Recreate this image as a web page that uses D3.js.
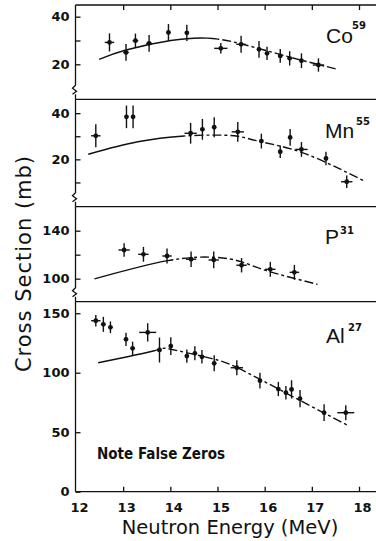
<!DOCTYPE html>
<html><head><meta charset="utf-8">
<script src="https://cdn.jsdelivr.net/npm/d3@7"></script>
<style>html,body{margin:0;padding:0;background:#fff;}svg{display:block;}</style>
</head><body>
<script>
// ---------- DATA ----------
const energyTicks = [12, 13, 14, 15, 16, 17, 18];
const nuclides = ["Co", "Mn", "P", "Al"];
const massNumbers = ["59", "55", "31", "27"];

const coE    = [12.71, 13.06, 13.26, 13.55, 13.96, 14.35, 15.07, 15.50, 15.88, 16.05, 16.33, 16.53, 16.78, 17.14];
const coV    = [29.2, 25.0, 29.9, 28.8, 33.4, 33.2, 26.7, 28.4, 26.3, 24.6, 23.5, 22.5, 21.5, 19.7];
const coXErr = [0.10, 0.06, 0.06, 0.06, 0.04, 0.04, 0.14, 0.10, 0.04, 0.04, 0.04, 0.04, 0.04, 0.12];
const coYErr = [3.8, 3.5, 3.0, 3.5, 3.5, 3.4, 2.2, 3.6, 3.5, 2.8, 2.9, 3.0, 3.1, 2.8];
const coCurveE = [12.49, 13.06, 14.01, 14.79, 15.50, 16.48, 17.12, 17.54];
const coCurveV = [22.1, 26.0, 30.0, 31.0, 28.6, 23.3, 20.0, 17.9];

const mnE    = [12.42, 13.07, 13.21, 14.43, 14.68, 14.93, 15.43, 15.93, 16.33, 16.54, 16.78, 17.30, 17.74];
const mnV    = [30.2, 38.4, 38.4, 31.3, 33.0, 33.9, 31.9, 27.9, 23.3, 29.5, 24.3, 20.4, 10.3];
const mnXErr = [0.10, 0, 0, 0.13, 0.04, 0.04, 0.13, 0.04, 0.04, 0.04, 0.13, 0.04, 0.12];
const mnYErr = [5.0, 4.9, 4.9, 4.5, 4.5, 4.3, 4.3, 3.2, 2.7, 3.6, 3.2, 2.9, 2.7];
const mnCurveE = [12.26, 13.31, 14.30, 14.93, 15.43, 15.92, 16.84, 18.11];
const mnCurveV = [22.2, 27.6, 30.1, 30.5, 30.0, 27.6, 22.6, 10.6];

const pE    = [13.02, 13.43, 13.93, 14.44, 14.92, 15.51, 16.12, 16.63];
const pV    = [123.9, 120.3, 118.9, 116.2, 115.6, 111.2, 107.8, 105.3];
const pXErr = [0.12, 0.11, 0.10, 0.11, 0.11, 0.11, 0.11, 0.10];
const pYErr = [5.6, 6.2, 6.2, 6.5, 7.0, 6.0, 6.2, 6.2];
const pCurveE = [12.39, 13.94, 14.93, 15.50, 16.06, 17.12];
const pCurveV = [99.8, 115.0, 117.8, 114.2, 106.4, 95.3];

const alE    = [12.42, 12.58, 12.73, 13.06, 13.20, 13.52, 13.77, 14.01, 14.35, 14.52, 14.67, 14.93, 15.41, 15.90, 16.29, 16.45, 16.57, 16.75, 17.26, 17.72];
const alV    = [143.7, 140.7, 138.2, 128.1, 120.5, 133.9, 119.1, 122.4, 114.0, 116.3, 113.4, 107.9, 104.2, 93.3, 86.3, 83.2, 86.0, 78.2, 66.4, 66.4];
const alXErr = [0.10, 0.04, 0.04, 0.04, 0.04, 0.18, 0.04, 0.04, 0.04, 0.04, 0.04, 0.04, 0.13, 0.04, 0.04, 0.04, 0.04, 0.04, 0.04, 0.18];
const alYErr = [4.9, 6.3, 4.9, 5.6, 5.6, 7.7, 10.5, 7.4, 5.6, 5.9, 5.6, 6.7, 6.3, 6.6, 6.0, 5.6, 7.7, 7.3, 7.0, 6.3];
const alCurveE = [12.47, 13.66, 14.01, 14.86, 15.42, 16.13, 16.84, 17.79];
const alCurveV = [108.4, 118.5, 119.7, 112.1, 104.2, 89.7, 74.8, 55.2];

const coTicks = [20, 30, 40], coLabels = [20, 40];
const mnTicks = [10, 20, 30, 40], mnLabels = [20, 40];
const pTicks = [100, 120, 140], pLabels = [100, 140];
const alTicks = [0, 50, 100, 150], alLabels = [0, 50, 100, 150];

const xTitle = "Neutron Energy (MeV)";
const yTitle = "Cross Section (mb)";
const noteText = "Note False Zeros";

// ---------- LAYOUT ----------
const W = 376, H = 541;
const axisX = 75.5, rightX = 376;
const x = d3.scaleLinear().domain([12, 18]).range([76, 359]);

const panels = [
  { E: coE, V: coV, xe: coXErr, ye: coYErr, cE: coCurveE, cV: coCurveV, ticks: coTicks, labels: coLabels,
    domain: [5.3, 44.9], top: 5, bottom: 99.3, split: 15.0, brk: true, lab: [326, 43], sup: [352, 29] },
  { E: mnE, V: mnV, xe: mnXErr, ye: mnYErr, cE: mnCurveE, cV: mnCurveV, ticks: mnTicks, labels: mnLabels,
    domain: [-0.5, 46.0], top: 99.3, bottom: 206.7, split: 14.3, brk: true, lab: [325, 137.5], sup: [356, 124.5] },
  { E: pE, V: pV, xe: pXErr, ye: pYErr, cE: pCurveE, cV: pCurveV, ticks: pTicks, labels: pLabels,
    domain: [80.8, 160], top: 206.7, bottom: 301.7, split: 13.95, brk: true, lab: [325, 243.5], sup: [340, 234] },
  { E: alE, V: alV, xe: alXErr, ye: alYErr, cE: alCurveE, cV: alCurveV, ticks: alTicks, labels: alLabels,
    domain: [0, 159.7], top: 301.7, bottom: 491.7, split: 13.7, brk: false, lab: [326, 343.3], sup: [348, 330.5] }
];

const svg = d3.select("body").append("svg").attr("width", W).attr("height", H)
  .style("font-family", "'DejaVu Sans', sans-serif");
const ink = "#111";

// horizontal frame lines
[5, 99.3, 206.7, 301.7, 491.7].forEach(yy => {
  svg.append("line").attr("x1", axisX).attr("x2", rightX).attr("y1", yy).attr("y2", yy)
    .attr("stroke", ink).attr("stroke-width", 1.3);
});

// top ticks (down) and bottom axis (up, with labels)
const topAxis = d3.axisTop(x).tickValues(energyTicks.slice(1)).tickSizeInner(-5).tickSizeOuter(0).tickFormat("");
svg.append("g").attr("transform", "translate(0,5)").call(topAxis)
  .call(g => g.select(".domain").remove())
  .call(g => g.selectAll("line").attr("stroke", ink).attr("stroke-width", 1.3));

const bottomAxis = d3.axisBottom(x).tickValues(energyTicks).tickSizeInner(-5).tickSizeOuter(0)
  .tickPadding(11).tickFormat(d3.format("d"));
svg.append("g").attr("transform", "translate(0,491.7)").call(bottomAxis)
  .call(g => g.select(".domain").remove())
  .call(g => g.selectAll("line").attr("stroke", ink).attr("stroke-width", 1.3))
  .call(g => g.selectAll(".tick").filter(d => d === 12).select("line").remove())
  .call(g => g.selectAll("text").attr("fill", ink).attr("font-size", 13).attr("font-weight", "bold")
    .attr("font-family", "'DejaVu Sans', sans-serif").attr("dx", 3));

const defs = svg.append("defs");
const line = d3.line().curve(d3.curveNatural);

panels.forEach((p, i) => {
  const y = d3.scaleLinear().domain(p.domain).range([p.bottom, p.top]);

  // left axis with break mark
  const bTop = p.top, bBot = p.bottom;
  let path = `M${axisX},${bTop} `;
  if (p.brk) {
    const by = bBot - 10;
    path += `L${axisX},${by - 4} L${axisX - 3},${by - 1} L${axisX + 1},${by + 2} L${axisX - 3},${by + 5} M${axisX},${by + 5} L${axisX},${bBot}`;
  } else {
    path += `L${axisX},${bBot}`;
  }
  svg.append("path").attr("d", path).attr("fill", "none").attr("stroke", ink).attr("stroke-width", 1.3);

  const yAxis = d3.axisLeft(y).tickValues(p.ticks).tickSizeInner(-5).tickSizeOuter(0).tickPadding(6)
    .tickFormat(d => p.labels.includes(d) ? d : "");
  svg.append("g").attr("transform", `translate(${axisX},0)`).call(yAxis)
    .call(g => g.select(".domain").remove())
    .call(g => g.selectAll("line").attr("stroke", ink).attr("stroke-width", 1.3))
    .call(g => g.selectAll("text").attr("fill", ink).attr("font-size", 13).attr("font-weight", "bold")
      .attr("font-family", "'DejaVu Sans', sans-serif"));

  // curve: solid part and dashed part via clip paths
  const pts = p.cE.map((e, k) => [x(e), y(p.cV[k])]);
  const sx = x(p.split);
  defs.append("clipPath").attr("id", `cs${i}`).append("rect")
    .attr("x", 0).attr("y", p.top).attr("width", sx).attr("height", p.bottom - p.top);
  defs.append("clipPath").attr("id", `cd${i}`).append("rect")
    .attr("x", sx).attr("y", p.top).attr("width", W - sx).attr("height", p.bottom - p.top);
  svg.append("path").attr("d", line(pts)).attr("fill", "none").attr("stroke", ink)
    .attr("stroke-width", 1.4).attr("clip-path", `url(#cs${i})`);
  svg.append("path").attr("d", line(pts)).attr("fill", "none").attr("stroke", ink)
    .attr("stroke-width", 1.4).attr("stroke-dasharray", "9,3,3,3").attr("clip-path", `url(#cd${i})`);

  // data points with error bars
  const g = svg.append("g");
  p.E.forEach((e, k) => {
    const cx = x(e), cy = y(p.V[k]);
    g.append("line").attr("x1", cx).attr("x2", cx)
      .attr("y1", y(p.V[k] - p.ye[k])).attr("y2", y(p.V[k] + p.ye[k]))
      .attr("stroke", ink).attr("stroke-width", 1.4);
    if (p.xe[k] > 0) {
      g.append("line").attr("x1", x(e - p.xe[k])).attr("x2", x(e + p.xe[k]))
        .attr("y1", cy).attr("y2", cy).attr("stroke", ink).attr("stroke-width", 1.4);
    }
    g.append("circle").attr("cx", cx).attr("cy", cy).attr("r", 2.4).attr("fill", ink);
  });

  // nuclide label
  svg.append("text").attr("x", p.lab[0]).attr("y", p.lab[1]).text(nuclides[i])
    .attr("font-family", "'Liberation Sans', Arial, sans-serif").attr("font-size", 21).attr("fill", ink);
  svg.append("text").attr("x", p.sup[0]).attr("y", p.sup[1]).text(massNumbers[i])
    .attr("font-size", 10).attr("font-weight", "bold").attr("fill", ink);
});

// note
svg.append("text").attr("x", 97).attr("y", 458.5).text(noteText)
  .attr("font-size", 16).attr("font-weight", "bold").attr("fill", ink)
  .attr("textLength", 128).attr("lengthAdjust", "spacingAndGlyphs");

// axis titles
svg.append("text").attr("x", 230).attr("y", 534).attr("text-anchor", "middle")
  .attr("font-size", 19.5).attr("fill", ink).text(xTitle);
svg.append("text").attr("transform", "translate(31,263.5) rotate(-90)").attr("text-anchor", "middle")
  .attr("font-size", 21).attr("letter-spacing", 1).attr("fill", ink).text(yTitle);
</script>
</body></html>
